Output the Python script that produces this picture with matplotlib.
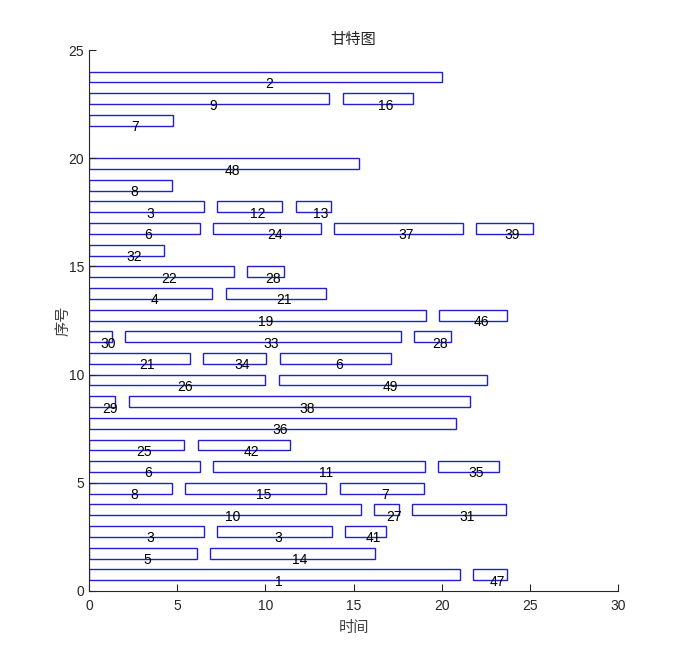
import matplotlib
matplotlib.use("Agg")
import matplotlib.pyplot as plt
from matplotlib.patches import Rectangle

plt.rcParams['font.family'] = ['Liberation Sans', 'Noto Sans CJK SC', 'DejaVu Sans']

# Data: each entry is one bar (row, start, end, label)
bar_rows = [24,
            23, 23,
            22,
            20,
            19,
            18, 18, 18,
            17, 17, 17, 17,
            16,
            15, 15,
            14, 14,
            13, 13,
            12, 12, 12,
            11, 11, 11,
            10, 10,
            9, 9,
            8,
            7, 7,
            6, 6, 6,
            5, 5, 5,
            4, 4, 4,
            3, 3, 3,
            2, 2,
            1, 1]
bar_start = [0,
             0, 14.39,
             0,
             0,
             0,
             0, 7.26, 11.72,
             0, 7.05, 13.91, 21.97,
             0,
             0, 8.96,
             0, 7.75,
             0, 19.87,
             0, 2.06, 18.41,
             0, 6.45, 10.81,
             0, 10.76,
             0, 2.25,
             0,
             0, 6.16,
             0, 7.05, 19.81,
             0, 5.44, 14.22,
             0, 16.16, 18.34,
             0, 7.26, 14.52,
             0, 6.88,
             0, 21.78]
bar_end = [20.0,
           13.61, 18.39,
           4.74,
           15.33,
           4.69,
           6.50, 10.96, 13.73,
           6.31, 13.18, 21.23, 25.20,
           4.25,
           8.20, 11.08,
           7.00, 13.46,
           19.13, 23.71,
           1.30, 17.69, 20.55,
           5.71, 10.06, 17.13,
           10.00, 22.59,
           1.49, 21.61,
           20.83,
           5.41, 11.40,
           6.31, 19.08, 23.25,
           4.69, 13.46, 18.98,
           15.44, 17.60, 23.65,
           6.52, 13.78, 16.84,
           6.14, 16.20,
           21.06, 23.71]
bar_label = ['2',
             '9', '16',
             '7',
             '48',
             '8',
             '3', '12', '13',
             '6', '24', '37', '39',
             '32',
             '22', '28',
             '4', '21',
             '19', '46',
             '30', '33', '28',
             '21', '34', '6',
             '26', '49',
             '29', '38',
             '36',
             '25', '42',
             '6', '11', '35',
             '8', '15', '7',
             '10', '27', '31',
             '3', '3', '41',
             '5', '14',
             '1', '47']

x_ticks = [0, 5, 10, 15, 20, 25, 30]
y_ticks = [0, 5, 10, 15, 20, 25]

fig = plt.figure(figsize=(6.84, 6.64), dpi=100)
ax = fig.add_axes([89/684, 1 - 591/664, (618-89)/684, (591-50)/664])

for r, s, e, lab in zip(bar_rows, bar_start, bar_end, bar_label):
    ax.add_patch(Rectangle((s, r - 0.5), e - s, 0.5, facecolor='white',
                           edgecolor='#2020d0', linewidth=1.0))
    ax.text((s + e) / 2, r - 0.57, lab, ha='left', va='center',
            fontsize=10, color='black')

ax.set_xlim(0, 30)
ax.set_ylim(0, 25)
ax.set_xticks(x_ticks)
ax.set_yticks(y_ticks)
ax.spines['top'].set_visible(False)
ax.spines['right'].set_visible(False)
for sp in ['left', 'bottom']:
    ax.spines[sp].set_color('#262626')
    ax.spines[sp].set_linewidth(0.8)
ax.tick_params(direction='in', length=5, width=0.8, colors='#262626',
               labelsize=10, labelcolor='#262626')
ax.tick_params(axis='x', pad=6)

ax.set_title('甘特图', fontsize=11, color='#262626', pad=4,
             family=['Noto Sans CJK SC'])
ax.set_xlabel('时间', fontsize=11, color='#404040', labelpad=4,
              family=['Noto Sans CJK SC'])
ax.set_ylabel('序号', fontsize=11, color='#404040', labelpad=-2,
              family=['Noto Sans CJK SC'])

fig.savefig('out.png', dpi=100)
